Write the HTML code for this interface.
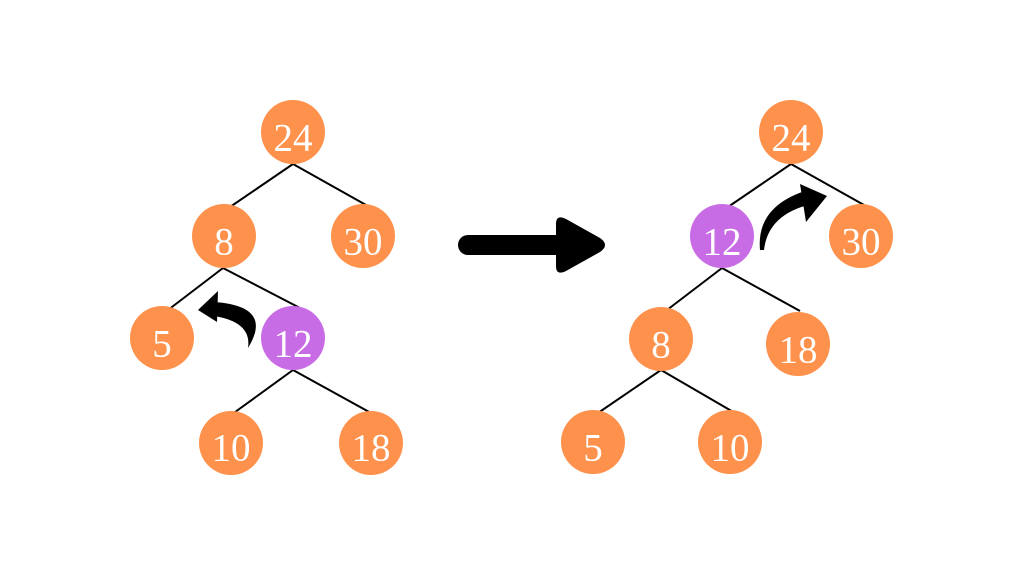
<!DOCTYPE html>
<html><head><style>
html,body{margin:0;padding:0;background:#fff}
svg{display:block}
text{font-family:"Liberation Serif",serif;font-size:39px;fill:#fff;text-anchor:middle;dominant-baseline:central}
</style></head><body>
<svg width="1024" height="576" viewBox="0 0 1024 576">
<rect width="1024" height="576" fill="#fff"/>
<g stroke="#000" stroke-width="2" fill="none">
<line x1="293" y1="164" x2="230" y2="207"/><line x1="293" y1="164" x2="366" y2="205"/>
<line x1="223" y1="268" x2="168" y2="310"/><line x1="223" y1="268" x2="300" y2="308"/>
<line x1="293" y1="370" x2="231" y2="415"/><line x1="293" y1="370" x2="371" y2="413"/>
<line x1="791" y1="164" x2="728" y2="207"/><line x1="791" y1="164" x2="864" y2="205"/>
<line x1="722" y1="268" x2="667" y2="310"/><line x1="722" y1="268" x2="800" y2="311"/>
<line x1="661" y1="370" x2="598" y2="413"/><line x1="661" y1="370" x2="735" y2="413"/>
</g>
<g fill="#fe914b">
<circle cx="293" cy="132" r="32"/><circle cx="224" cy="236" r="32"/><circle cx="363" cy="236" r="32"/>
<circle cx="162" cy="338" r="32"/><circle cx="231" cy="443" r="32"/><circle cx="371" cy="443" r="32"/>
<circle cx="791" cy="132" r="32"/><circle cx="861" cy="236" r="32"/><circle cx="661" cy="339" r="32"/>
<circle cx="798" cy="344" r="32"/><circle cx="593" cy="442" r="32"/><circle cx="730" cy="442" r="32"/>
</g>
<g fill="#c86ce6"><circle cx="293" cy="338" r="32"/><circle cx="722" cy="236" r="32"/></g>
<text x="293" y="138">24</text><text x="224" y="242">8</text><text x="363" y="242">30</text>
<text x="162" y="344">5</text><text x="293" y="344">12</text><text x="231" y="448">10</text><text x="371" y="448">18</text>
<text x="791" y="138">24</text><text x="722" y="242">12</text><text x="861" y="242">30</text>
<text x="661" y="345">8</text><text x="798" y="350">18</text><text x="593" y="448">5</text><text x="730" y="448">10</text>
<!-- big arrow -->
<line x1="468" y1="245" x2="560" y2="245" stroke="#000" stroke-width="20" stroke-linecap="round"/>
<path d="M556 224 Q556 214 566 219 L600 238 Q610 245 600 252 L566 271 Q556 276 556 266 Z" fill="#000"/>
<!-- left curved arrow -->
<path d="M248 348 Q252 322 214 316 L214 302 Q274 306 248 348 Z" fill="#000"/>
<path d="M198 310 L218 291 L217 322 Z" fill="#000"/>
<!-- right curved arrow -->
<path d="M760 250 Q756 206 808 190 L812 204 Q768 214 764 250 Z" fill="#000"/>
<path d="M827 196 L800 184 L806 222 Z" fill="#000"/>
</svg>
</body></html>
